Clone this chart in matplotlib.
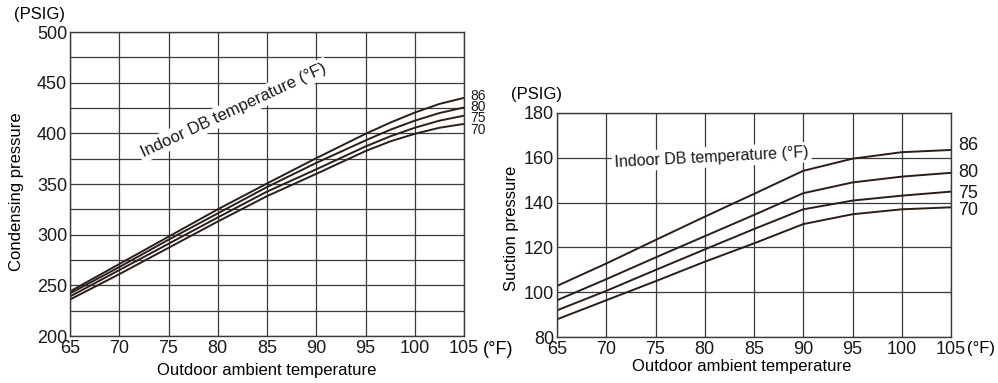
import matplotlib
matplotlib.use("Agg")
import matplotlib.pyplot as plt

plt.rcParams["font.family"] = ["Liberation Sans", "DejaVu Sans"]

# ── data ──
indoor_labels = ["86", "80", "75", "70"]

cond_x = [65, 70, 75, 80, 85, 90, 95, 97.5, 100, 102.5, 105]
cond_86 = [244, 271, 298, 325, 350.5, 375.5, 399.5, 410.5, 420.5, 429.0, 435.0]
cond_80 = [242, 268, 295, 321, 347.0, 370.8, 393.0, 403.5, 412.5, 420.0, 425.5]
cond_75 = [239, 265, 291, 317, 342.5, 364.5, 387.0, 397.0, 405.5, 412.5, 417.4]
cond_70 = [236, 261, 287, 313, 338.0, 360.0, 382.5, 392.0, 399.5, 405.5, 409.3]

suct_x = [65, 70, 75, 80, 85, 90, 95, 100, 105]
suct_86 = [102.8, 112.8, 123.3, 133.7, 143.9, 154.2, 159.6, 162.5, 163.5]
suct_80 = [96.4, 105.8, 115.5, 125.0, 134.5, 144.2, 149.0, 151.6, 153.3]
suct_75 = [91.9, 100.6, 109.9, 119.1, 128.2, 137.0, 140.9, 143.1, 144.9]
suct_70 = [87.9, 96.4, 104.9, 113.6, 121.8, 130.4, 134.8, 137.0, 137.9]

cond_label_y = [437, 426, 415, 403]
suct_label_y = [165.3, 153.5, 144.1, 136.4]

x_ticks = [65, 70, 75, 80, 85, 90, 95, 100, 105]
cond_ticks = [200, 250, 300, 350, 400, 450, 500]
suct_ticks = [80, 100, 120, 140, 160, 180]

line_col = "#2b1d17"
grid_col = "#3a3a3a"
W, H = 998, 383

fig = plt.figure(figsize=(W / 100, H / 100), dpi=100)


def px(x, y):
    return x / W, 1 - y / H


def setup(ax, ylim, yticks, ygrid):
    ax.set_xlim(65, 105)
    ax.set_ylim(*ylim)
    ax.set_xticks(x_ticks)
    ax.set_yticks(yticks)
    ax.set_yticks(ygrid, minor=True)
    ax.tick_params(which="both", length=0, labelsize=13, colors="#1a1a1a")
    ax.tick_params(axis="x", pad=3)
    ax.tick_params(axis="y", pad=2)
    ax.grid(True, which="both", color=grid_col, lw=0.9)
    ax.set_axisbelow(True)
    for s in ax.spines.values():
        s.set_color(grid_col)
        s.set_linewidth(1.0)


# ── left: condensing pressure ──
ax1 = fig.add_axes([70 / W, 1 - 336 / H, 394 / W, 304 / H])
setup(ax1, (200, 500), cond_ticks, list(range(225, 500, 25)))
for ys in [cond_86, cond_80, cond_75, cond_70]:
    ax1.plot(cond_x, ys, color=line_col, lw=1.4, solid_capstyle="butt")
for lab, y in zip(indoor_labels, cond_label_y):
    ax1.text(105.6, y, lab, fontsize=10, va="center", ha="left", color="#1a1a1a")
ax1.text(81.6, 423, "Indoor DB temperature (°F)", rotation=25, fontsize=12,
         ha="center", va="center", color="#1a1a1a", rotation_mode="anchor",
         bbox=dict(facecolor="white", edgecolor="none", pad=2))

fig.text(*px(14, 14), "(PSIG)", fontsize=12, va="center", ha="left")
fig.text(*px(17, 192), "Condensing pressure", fontsize=12, rotation=90,
         va="center", ha="center")
fig.text(*px(267, 370), "Outdoor ambient temperature", fontsize=12,
         va="center", ha="center")
fig.text(*px(483, 350), "(°F)", fontsize=13, va="center", ha="left")

# ── right: suction pressure ──
ax2 = fig.add_axes([557 / W, 1 - 337 / H, 394 / W, 224 / H])
setup(ax2, (80, 180), suct_ticks, [])
for ys in [suct_86, suct_80, suct_75, suct_70]:
    ax2.plot(suct_x, ys, color=line_col, lw=1.4, solid_capstyle="butt")
for lab, y in zip(indoor_labels, suct_label_y):
    ax2.text(105.7, y, lab, fontsize=13, va="center", ha="left", color="#1a1a1a")
ax2.text(80.7, 160.3, "Indoor DB temperature (°F)", rotation=3, fontsize=11.5,
         ha="center", va="center", color="#1a1a1a", rotation_mode="anchor",
         bbox=dict(facecolor="white", edgecolor="none", pad=2))

fig.text(*px(511, 95), "(PSIG)", fontsize=12, va="center", ha="left")
fig.text(*px(512, 228), "Suction pressure", fontsize=12, rotation=90,
         va="center", ha="center")
fig.text(*px(742, 366), "Outdoor ambient temperature", fontsize=12,
         va="center", ha="center")
fig.text(*px(967, 348), "(°F)", fontsize=12, va="center", ha="left")

fig.savefig("out.png", dpi=100)
